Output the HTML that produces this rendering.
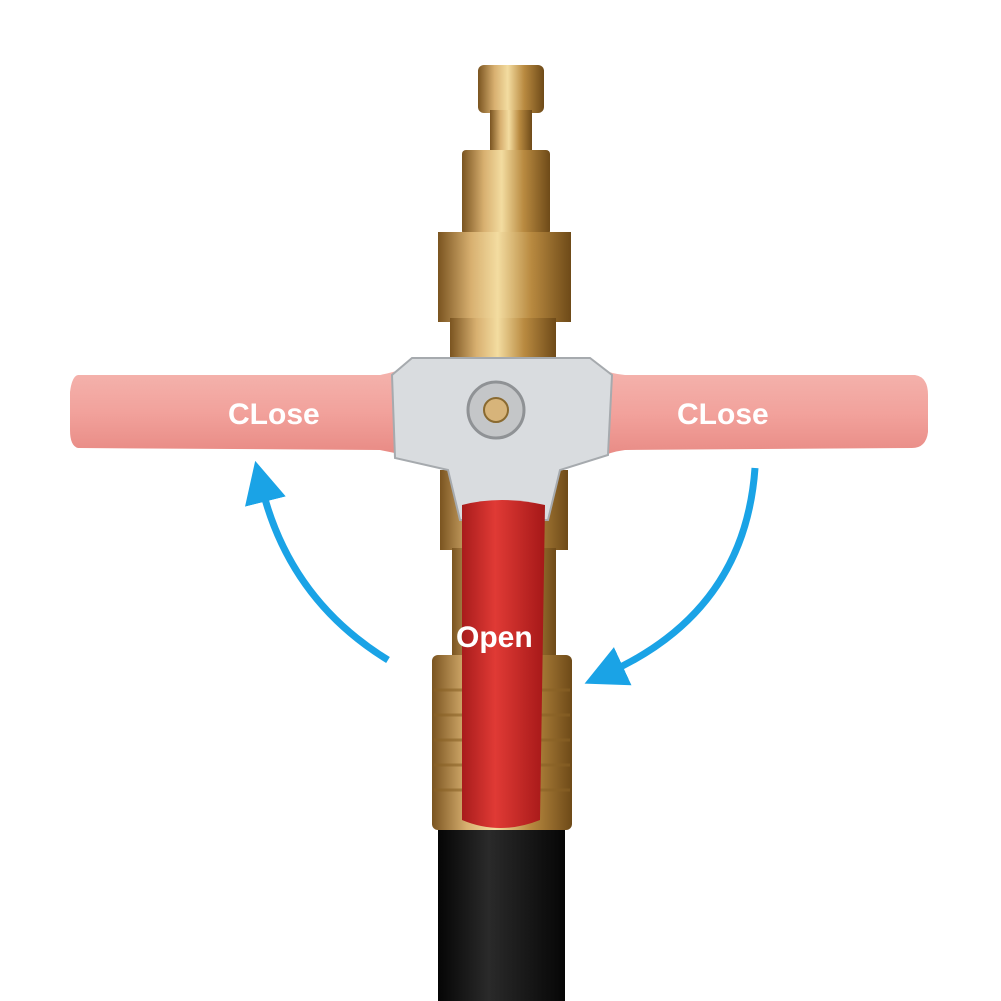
<!DOCTYPE html>
<html><head><meta charset="utf-8"><style>
html,body{margin:0;padding:0;background:#fff;width:1001px;height:1001px;overflow:hidden}
</style></head><body>
<svg width="1001" height="1001" viewBox="0 0 1001 1001" xmlns="http://www.w3.org/2000/svg">
<defs>
<linearGradient id="brass" x1="0" x2="1" y1="0" y2="0">
<stop offset="0" stop-color="#7a5420"/><stop offset="0.25" stop-color="#d8b070"/><stop offset="0.45" stop-color="#f3dca0"/><stop offset="0.7" stop-color="#b98a40"/><stop offset="1" stop-color="#6e4a18"/>
</linearGradient>
<linearGradient id="red" x1="0" x2="1">
<stop offset="0" stop-color="#a81c1c"/><stop offset="0.4" stop-color="#e03a35"/><stop offset="1" stop-color="#a51818"/>
</linearGradient>
<linearGradient id="hose" x1="0" x2="1">
<stop offset="0" stop-color="#050505"/><stop offset="0.4" stop-color="#2a2a2a"/><stop offset="1" stop-color="#060606"/>
</linearGradient>
<linearGradient id="pink" x1="0" y1="0" x2="0" y2="1">
<stop offset="0" stop-color="#f4b4ae"/><stop offset="0.5" stop-color="#f2a29c"/><stop offset="1" stop-color="#e88a84"/>
</linearGradient>
<marker id="ah" markerWidth="6" markerHeight="6" refX="2" refY="3" orient="auto" markerUnits="strokeWidth">
<path d="M0,0 L6,3 L0,6 z" fill="#1aa3e6"/>
</marker>
</defs>
<!-- hose -->
<rect x="438" y="825" width="127" height="176" fill="url(#hose)"/>
<!-- top plug -->
<rect x="478" y="65" width="66" height="48" rx="6" fill="url(#brass)"/>
<rect x="490" y="110" width="42" height="45" fill="url(#brass)"/>
<rect x="462" y="150" width="88" height="85" rx="4" fill="url(#brass)"/>
<rect x="438" y="232" width="133" height="90" fill="url(#brass)"/>
<rect x="450" y="318" width="106" height="45" fill="url(#brass)"/>
<!-- lower body -->
<rect x="440" y="470" width="128" height="80" fill="url(#brass)"/>
<rect x="452" y="548" width="104" height="110" fill="url(#brass)"/>
<rect x="432" y="655" width="140" height="175" rx="6" fill="url(#brass)"/>
<g stroke="#8a6226" stroke-width="3" opacity="0.6">
<line x1="434" y1="690" x2="570" y2="690"/><line x1="434" y1="715" x2="570" y2="715"/>
<line x1="434" y1="740" x2="570" y2="740"/><line x1="434" y1="765" x2="570" y2="765"/>
<line x1="434" y1="790" x2="570" y2="790"/>
</g>
<!-- pink handles -->
<path d="M78,375 L380,375 Q395,372 405,368 L405,455 Q390,452 380,450 L78,448 Q70,446 70,430 L70,392 Q72,376 78,375 Z" fill="url(#pink)"/>
<path d="M598,368 Q612,374 625,375 L915,375 Q928,377 928,395 L928,432 Q926,448 912,448 L625,450 Q610,452 598,458 Z" fill="url(#pink)"/>
<!-- silver valve body -->
<path d="M412,358 L590,358 L612,375 L608,455 L560,470 L548,520 L460,520 L448,470 L395,458 L392,375 Z" fill="#d9dcdf" stroke="#a6aaae" stroke-width="2"/>
<circle cx="496" cy="410" r="28" fill="#c4c6c8" stroke="#8f9295" stroke-width="3"/>
<circle cx="496" cy="410" r="12" fill="#d7b47a" stroke="#8a6a30" stroke-width="2"/>
<!-- red handle -->
<path d="M462,505 Q500,495 545,505 L540,820 Q500,836 462,820 Z" fill="url(#red)"/>
<!-- arrows -->
<path d="M388,660 Q290,600 262,488" fill="none" stroke="#1aa3e6" stroke-width="7" marker-end="url(#ah)"/>
<path d="M755,468 Q745,610 610,672" fill="none" stroke="#1aa3e6" stroke-width="7" marker-end="url(#ah)"/>
<!-- labels -->
<g font-family="Liberation Sans, sans-serif" font-weight="bold" font-size="30" fill="#fff">
<text x="228" y="424">CLose</text>
<text x="677" y="424">CLose</text>
<text x="456" y="647">Open</text>
</g>
</svg>
</body></html>
